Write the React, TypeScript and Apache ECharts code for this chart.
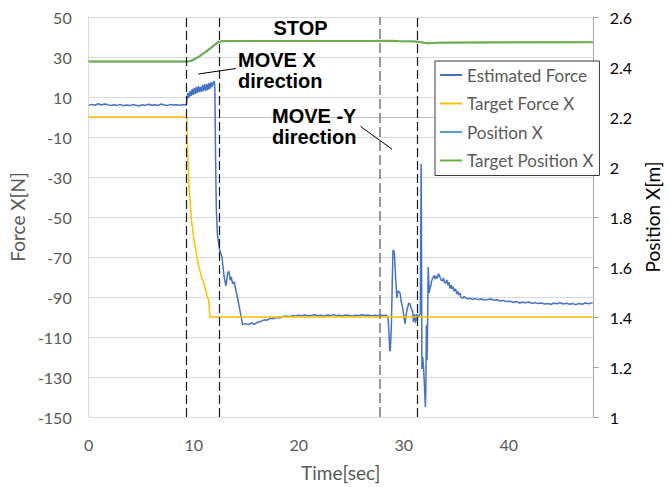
import React, { useEffect, useRef } from "react";
import * as echarts from "echarts";

// ---- Data ----
const xTicks = [0, 10, 20, 30, 40];

const forceTime = [
  0, 0.3, 0.6, 0.9, 1.2, 1.5, 1.8, 2.1, 2.4, 2.7, 3.0, 3.3, 3.6, 3.9, 4.2, 4.5, 4.8, 5.1, 5.4, 5.7,
  6.0, 6.3, 6.6, 6.9, 7.2, 7.5, 7.8, 8.1, 8.4, 8.7, 9.0, 9.3,
  9.38, 9.45, 9.55, 9.65, 9.75, 9.85, 9.95, 10.05, 10.15, 10.25, 10.35, 10.45, 10.55, 10.65, 10.75,
  10.85, 10.95, 11.05, 11.15, 11.25, 11.35, 11.45, 11.55, 11.65, 11.75, 11.85, 11.96, 12.02,
  12.08, 12.15, 12.25, 12.34, 12.47, 12.69, 12.9, 13.07, 13.23, 13.35, 13.48, 13.58, 13.7, 13.86,
  14.05, 14.27, 14.5, 14.66,
  14.9, 15.2, 15.5, 15.8, 16.1, 16.4, 16.7, 17.0, 17.3, 17.6, 17.9, 18.2, 18.5, 18.8, 19.1, 19.4,
  19.7, 20.0, 20.3, 20.6, 20.9, 21.2, 21.5, 21.8, 22.1, 22.4, 22.7, 23.0, 23.3, 23.6, 23.9, 24.2,
  24.5, 24.8, 25.1, 25.4, 25.7, 26.0, 26.3, 26.6, 26.9, 27.2, 27.5, 27.8, 28.1, 28.35,
  28.5, 28.6, 28.66, 28.72, 28.82, 28.9, 28.97, 29.05, 29.13, 29.22, 29.35, 29.45, 29.55, 29.65,
  29.75, 29.9, 30.05, 30.13, 30.22, 30.32, 30.45, 30.54, 30.65, 30.75, 30.85, 30.92, 31.0, 31.05,
  31.12, 31.18, 31.25, 31.33, 31.42, 31.5, 31.58, 31.62, 31.66, 31.69, 31.73, 31.8, 31.88, 31.95,
  32.02, 32.06, 32.1, 32.16, 32.22, 32.28, 32.33, 32.42, 32.5, 32.59, 32.66, 32.74, 32.82, 32.9,
  33.0, 33.1, 33.2, 33.3, 33.37, 33.45, 33.55, 33.68, 33.78, 33.88, 34.0, 34.1, 34.2, 34.3, 34.4,
  34.5, 34.6, 34.7, 34.8, 34.94, 35.05, 35.15, 35.25, 35.35, 35.45, 35.6, 35.75, 35.9, 36.1, 36.3,
  36.5, 36.8, 37.1, 37.4, 37.7, 38.0, 38.3, 38.6, 38.9, 39.2, 39.5, 39.8, 40.1, 40.4, 40.7, 41.0,
  41.3, 41.6, 41.9, 42.2, 42.5, 42.8, 43.1, 43.4, 43.7, 44.0, 44.3, 44.6, 44.9, 45.2, 45.5, 45.8,
  46.1, 46.4, 46.7, 47.0, 47.3, 47.6, 48.0,
];
const estimatedForce = [
  5.8, 6.3, 5.9, 6.6, 6.0, 6.5, 6.2, 5.7, 6.1, 5.8, 6.3, 5.6, 6.0, 5.7, 6.2, 5.9, 5.5, 6.1, 5.8, 6.4,
  5.9, 6.1, 5.7, 6.5, 6.0, 5.8, 6.3, 6.0, 6.1, 5.9, 6.2, 5.9,
  10.0, 12.0, 9.5, 13.0, 10.5, 14.0, 11.0, 14.5, 11.5, 15.0, 12.0, 15.5, 12.5, 15.0, 12.5,
  16.0, 13.0, 16.5, 13.0, 16.5, 13.5, 17.0, 14.0, 17.5, 15.0, 17.0, 18.0, 14.0,
  -20, -45, -58, -62, -66.5, -70, -80, -84.4, -78.3, -77, -81.6, -80, -83.3, -82.5,
  -87.4, -93, -99.5, -103.8,
  -103.3, -103.8, -103.0, -103.6, -102.6, -102.2, -101.4, -101.6, -100.6, -100.9, -100.2, -100.5,
  -99.8, -99.5, -99.9, -99.3, -99.6, -99.1, -99.4, -99.0, -99.5, -99.2, -98.9, -99.4, -99.1, -99.6,
  -99.0, -99.3, -98.8, -99.4, -99.1, -99.5, -99.0, -99.3, -99.6, -99.1, -99.4, -98.9, -99.3, -99.0,
  -99.5, -99.1, -99.4, -99.0, -99.3, -99.1,
  -100.3, -108, -116.5, -117, -105, -85, -67, -66.5, -69, -80, -90.5, -87, -87.3, -88,
  -92, -95.5, -101, -103.5, -99, -96.3, -93.5, -93, -94.5, -96.3, -97, -102.5, -100, -98.6,
  -103, -101, -98.5, -100.3, -99.5, -99.1, -98, -60, -23.5, -60, -126, -120, -124.5, -132,
  -140, -145, -138, -104, -121.5, -100, -75, -88, -85.5, -84, -82, -80.8, -80, -79.2,
  -81, -79.5, -80.7, -78.3, -79, -80, -81.5, -82, -80.5, -82.8, -83, -81.5, -84, -82.5, -85.8,
  -84, -86, -84.8, -87, -86, -88.5, -87.2, -89, -88, -90.2, -90.6, -89.8, -90.5, -90.9, -90.6,
  -91.2, -90.8, -91.3, -91.0, -91.5, -91.2, -91.0, -91.6, -91.4, -92.0, -91.7, -92.3, -92.1, -92.6,
  -92.2, -93.0, -92.6, -92.9, -92.5, -93.2, -92.8, -93.3, -93.0, -93.5, -93.2, -93.6, -93.1, -93.4,
  -92.9, -93.5, -93.1, -93.6, -93.3, -93.8, -93.2, -93.6, -93.0, -93.4, -92.8,
];

const targetForceTime = [
  0, 9.33, 9.36, 9.45, 9.55, 9.65, 9.8, 10.0, 10.1, 10.2, 10.35, 10.5, 10.65, 10.8, 10.95, 11.1,
  11.25, 11.38, 11.45, 11.52, 11.56, 48,
];
const targetForce = [
  0, 0, -5, -22, -35, -42, -52, -60, -64, -66, -71, -75, -78, -81, -82.5, -86, -89, -91, -93, -99,
  -100, -100,
];

const positionTime = [
  0, 9.4, 9.8, 10.2, 10.6, 11.0, 11.4, 11.8, 12.2, 12.5, 13.0, 28.5, 29.0, 29.5, 31.3, 32.0, 32.4,
  33.0, 48,
];
const positionX = [
  2.422, 2.422, 2.425, 2.433, 2.443, 2.455, 2.467, 2.48, 2.494, 2.501, 2.504, 2.504, 2.506, 2.504,
  2.502, 2.497, 2.494, 2.497, 2.499,
];

const targetPositionTime = [
  0, 9.4, 9.7, 10.0, 10.3, 10.6, 10.9, 11.2, 11.5, 11.8, 12.1, 12.35, 12.6, 13.5, 20, 27, 28.5,
  29.5, 31, 31.5, 32.0, 32.4, 33, 35, 40, 48,
];
const targetPosition = [
  2.422, 2.422, 2.424, 2.43, 2.437, 2.445, 2.454, 2.463, 2.473, 2.483, 2.493, 2.5, 2.503, 2.504,
  2.504, 2.504, 2.505, 2.503, 2.502, 2.5, 2.496, 2.495, 2.497, 2.498, 2.499, 2.499,
];

const phaseLines = [9.33, 12.43, 27.72, 31.33];

const seriesNames = ["Estimated Force", "Target Force X", "Position X", "Target Position X"];
const seriesColors = ["#4472C4", "#FFC000", "#5B9BD5", "#70AD47"];

const zip = (xs: number[], ys: number[]) => xs.map((x, i) => [x, ys[i]]);

export default function App() {
  const ref = useRef<HTMLDivElement>(null);

  useEffect(() => {
    if (!ref.current) return;
    const chart = echarts.init(ref.current, undefined, { renderer: "svg" });
    const gray = "#595959";
    const font = "Lato";
    const annFont = "Liberation Sans";

    const annText = (text: string, x: number, y: number, align: string) => ({
      type: "text",
      x,
      y,
      z: 100,
      style: {
        text,
        fontFamily: annFont,
        fontWeight: "bold",
        fontSize: 20,
        fill: "#000",
        textAlign: align,
        textVerticalAlign: "middle",
      },
    });

    chart.setOption({
      animation: false,
      textStyle: { fontFamily: font },
      grid: { left: 88, right: 77, top: 17, bottom: 65 },
      legend: {
        orient: "vertical",
        left: 435,
        top: 61,
        padding: [5, 6, 6, 5],
        itemGap: 10.5,
        itemWidth: 22,
        itemHeight: 2,
        borderColor: "#3a3a3a",
        borderWidth: 1,
        backgroundColor: "#ffffff",
        textStyle: { fontFamily: font, fontSize: 17, color: gray, lineHeight: 18 },
        data: seriesNames.map((n) => ({ name: n, icon: "rect" })),
      },
      xAxis: {
        type: "value",
        min: 0,
        max: 48,
        interval: 10,
        name: "Time[sec]",
        nameLocation: "middle",
        nameGap: 46,
        nameTextStyle: { fontFamily: font, fontSize: 19, color: gray },
        axisLine: { show: true, lineStyle: { color: "#bfbfbf", width: 1 } },
        axisTick: { show: false },
        splitLine: { show: false },
        axisLabel: {
          fontFamily: font,
          fontSize: 16,
          color: gray,
          margin: 19,
          showMaxLabel: false,
          formatter: (v: number) => (xTicks.includes(v) ? String(v) : ""),
        },
      },
      yAxis: [
        {
          type: "value",
          min: -150,
          max: 50,
          interval: 20,
          name: "Force X[N]",
          nameLocation: "middle",
          nameRotate: 90,
          nameGap: 49,
          nameTextStyle: { fontFamily: font, fontSize: 19, color: gray },
          axisLine: { show: true, lineStyle: { color: "#d9d9d9", width: 1 } },
          axisTick: { show: false },
          splitLine: { show: true, lineStyle: { color: "#d9d9d9", width: 1 } },
          axisLabel: { fontFamily: font, fontSize: 16, color: gray, margin: 17 },
        },
        {
          type: "value",
          min: 1,
          max: 2.6,
          interval: 0.2,
          position: "right",
          name: "Position X[m]",
          nameLocation: "middle",
          nameRotate: 90,
          nameGap: 41,
          nameTextStyle: { fontFamily: font, fontSize: 19, color: "#000000" },
          axisLine: { show: true, lineStyle: { color: "#a6a6a6", width: 1 } },
          axisTick: { show: true, inside: false, length: 6, lineStyle: { color: "#a6a6a6" } },
          splitLine: { show: false },
          axisLabel: { fontFamily: font, fontSize: 16, color: "#000000", margin: 17 },
        },
      ],
      series: [
        {
          name: seriesNames[0],
          type: "line",
          yAxisIndex: 0,
          showSymbol: false,
          symbol: "none",
          color: seriesColors[0],
          lineStyle: { width: 1.5, color: seriesColors[0] },
          data: zip(forceTime, estimatedForce),
          z: 3,
        },
        {
          name: seriesNames[1],
          type: "line",
          yAxisIndex: 0,
          showSymbol: false,
          symbol: "none",
          color: seriesColors[1],
          lineStyle: { width: 1.5, color: seriesColors[1] },
          data: zip(targetForceTime, targetForce),
          z: 4,
          markLine: {
            silent: true,
            symbol: ["none", "none"],
            label: { show: false },
            lineStyle: { type: [9, 4], color: "#000000", width: 1.2 },
            data: phaseLines.map((x, i) => ({
              xAxis: x,
              lineStyle:
                i === 2
                  ? { type: [10, 4], color: "#7f7f7f", width: 1.6 }
                  : { type: [9, 4], color: "#1a1a1a", width: 1.2 },
            })),
          },
        },
        {
          name: seriesNames[2],
          type: "line",
          yAxisIndex: 1,
          showSymbol: false,
          symbol: "none",
          color: seriesColors[2],
          lineStyle: { width: 1.5, color: seriesColors[2] },
          data: zip(positionTime, positionX),
          z: 2,
        },
        {
          name: seriesNames[3],
          type: "line",
          yAxisIndex: 1,
          showSymbol: false,
          symbol: "none",
          color: seriesColors[3],
          lineStyle: { width: 2, color: seriesColors[3] },
          data: zip(targetPositionTime, targetPosition),
          z: 3,
        },
      ],
      graphic: [
        annText("STOP", 300.5, 27.5, "center"),
        annText("MOVE X", 238, 59.5, "left"),
        annText("direction", 238, 81, "left"),
        annText("MOVE -Y", 272, 115.5, "left"),
        annText("direction", 272, 137, "left"),
        {
          type: "line",
          z: 100,
          shape: { x1: 198.3, y1: 74, x2: 236, y2: 68.5 },
          style: { stroke: "#000", lineWidth: 1 },
        },
        {
          type: "line",
          z: 100,
          shape: { x1: 360.5, y1: 126.4, x2: 392, y2: 149.2 },
          style: { stroke: "#000", lineWidth: 1 },
        },
      ],
    });

    return () => chart.dispose();
  }, []);

  return (
    <div
      ref={ref}
      style={{ position: "fixed", left: 0, top: 0, width: 670, height: 487, background: "#fff" }}
    />
  );
}
